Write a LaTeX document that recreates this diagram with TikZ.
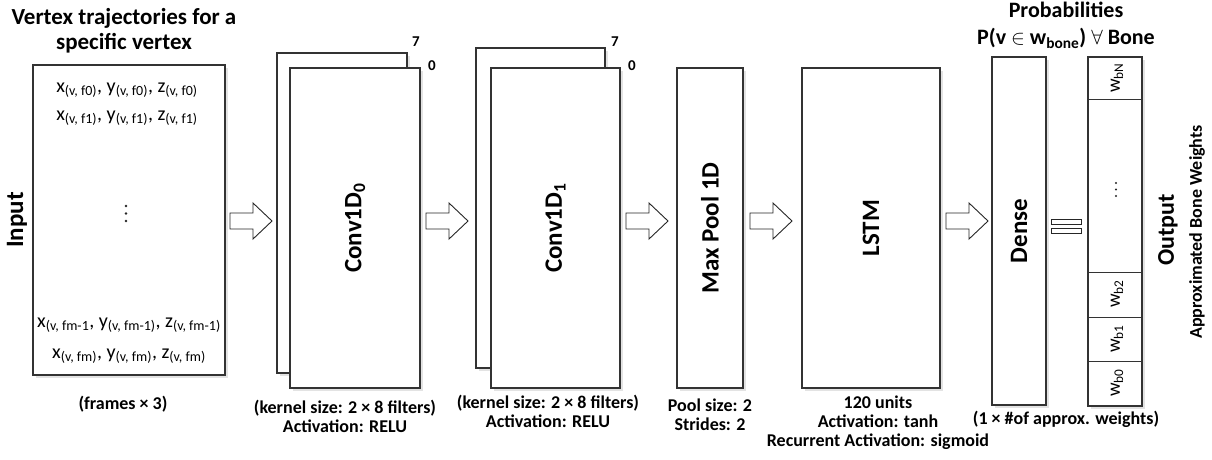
\documentclass[tikz,border=0pt]{standalone}
\usepackage{fontspec}
\setmainfont{Carlito}
\usetikzlibrary{shadows,calc}
\begin{document}
\begin{tikzpicture}[x=1pt,y=-1pt,
  box/.style={draw=black!80, line width=1.1pt, fill=white, inner sep=0pt,
    drop shadow={shadow xshift=3pt,shadow yshift=-3pt,opacity=0.22}},
  lbl/.style={font=\bfseries\fontsize{25}{28}\selectfont, rotate=90},
  captxt/.style={font=\bfseries\fontsize{18}{19}\selectfont, align=center},
  val/.style={font=\fontsize{20}{22}\selectfont},
  idx/.style={font=\bfseries\fontsize{15}{17}\selectfont},
  wlbl/.style={font=\fontsize{19}{21}\selectfont, rotate=90},
  dotm/.style={fill=black!85, draw=none},
  pics/barrow/.style={code={\draw[line width=0.9pt, draw=black!85, fill=white]
     (0,-8) -- (23,-8) -- (23,-18) -- (42,0) -- (23,18) -- (23,8) -- (0,8) -- cycle;}}
]
\useasboundingbox (0,0) rectangle (1212,459);

% title
\node[font=\bfseries\fontsize{23}{25}\selectfont, align=center] (title) at (124,30.5)
  {Vertex trajectories for a\\specific vertex};

% input
\node[box, minimum width=192pt, minimum height=310pt] (in) at (129,220) {};
\node[val] (l0) at (127,90) {x\textsubscript{(v, f0)}, y\textsubscript{(v, f0)}, z\textsubscript{(v, f0)}};
\node[val] (l1) at (127,118) {x\textsubscript{(v, f1)}, y\textsubscript{(v, f1)}, z\textsubscript{(v, f1)}};
\foreach \yy in {206,213.5,221} \fill[dotm] (126,\yy) circle (1.3);
\node[val] (lm1) at (129,325) {x\textsubscript{(v, fm-1}, y\textsubscript{(v, fm-1)}, z\textsubscript{(v, fm-1)}};
\node[val] (lm) at (129,356) {x\textsubscript{(v, fm)}, y\textsubscript{(v, fm)}, z\textsubscript{(v, fm)}};
\node[font=\bfseries\fontsize{25}{27}\selectfont, rotate=90] (inlbl) at (17,220) {Input};
\node[captxt] (incap) at (123,404) {(frames × 3)};

% conv 0
\node[box, minimum width=130pt, minimum height=320pt] (c0b) at (342,213) {};
\node[box, minimum width=130pt, minimum height=320pt] (c0f) at (355,228) {};
\node[lbl] at (c0f) {Conv1D\textsubscript{0}};
\node[idx] (c0i7) at (416,42) {7};
\node[idx] (c0i0) at (432,66) {0};
\node[captxt] (c0cap) at (345,416) {(kernel size: 2 × 8 filters)\\Activation: RELU};

% conv 1
\node[box, minimum width=129pt, minimum height=320pt] (c1b) at (540.5,208) {};
\node[box, minimum width=129pt, minimum height=320pt] (c1f) at (555.5,228) {};
\node[lbl] at (c1f) {Conv1D\textsubscript{1}};
\node[idx] (c1i7) at (615,42) {7};
\node[idx] (c1i0) at (632,66) {0};
\node[captxt] (c1cap) at (548,411) {(kernel size: 2 × 8 filters)\\Activation: RELU};

% max pool
\node[box, minimum width=66pt, minimum height=320pt] (mp) at (710,228) {};
\node[lbl] at (mp) {Max Pool 1D};
\node[captxt] (mpcap) at (710,415) {Pool size: 2\\Strides: 2};

% LSTM
\node[box, minimum width=138pt, minimum height=320pt] (lstm) at (871,228) {};
\node[lbl] at (lstm) {LSTM};
\node[captxt] (lstmcap) at (878,423) {120 units\\Activation: tanh\\Recurrent Activation: sigmoid};

% dense
\node[box, minimum width=54pt, minimum height=348pt] (dense) at (1019,231) {};
\node[lbl] at (dense) {Dense};
\node[font=\bfseries\fontsize{22}{27}\selectfont, align=center] (prob) at (1066,25.5)
  {Probabilities\\P(v $\in$ w\textsubscript{bone}) $\forall$ Bone};
\node[captxt] (dcap) at (1066,419) {(1 × \#of approx. weights)};

% equals
\draw[line width=0.8pt, draw=black!85, fill=white] (1051,219) rectangle (1081,224);
\draw[line width=0.8pt, draw=black!85, fill=white] (1051,228) rectangle (1081,233);

% output
\node[box, minimum width=54pt, minimum height=349pt] (out) at (1115,231.5) {};
\foreach \yy in {99,272,317,361}
  \draw[line width=1pt, draw=black!80] (out.west |- 0,\yy) -- (out.east |- 0,\yy);
\node[wlbl] (wbn) at (1117,78) {w\textsubscript{bN}};
\foreach \yy in {183,189.5,196} \fill[dotm] (1116,\yy) circle (1.2);
\node[wlbl] (wb2) at (1117,294) {w\textsubscript{b2}};
\node[wlbl] (wb1) at (1117,339) {w\textsubscript{b1}};
\node[wlbl] (wb0) at (1117,383) {w\textsubscript{b0}};
\node[font=\bfseries\fontsize{24}{26}\selectfont, rotate=90] (outlbl) at (1168,230) {Output};
\node[font=\bfseries\fontsize{18}{20}\selectfont, rotate=90] (outsub) at (1197,232) {Approximated Bone Weights};

% block arrows
\pic at (230,221) {barrow};
\pic at (426,221) {barrow};
\pic at (626,221) {barrow};
\pic at (750,221) {barrow};
\pic at (946,221) {barrow};
\end{tikzpicture}
\end{document}
